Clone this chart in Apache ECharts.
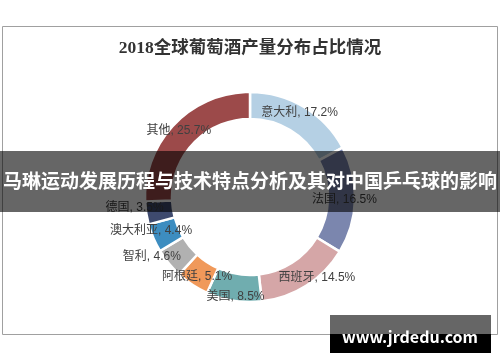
<!DOCTYPE html>
<html>
<head>
<meta charset="utf-8">
<script src="https://cdn.jsdelivr.net/npm/echarts@6/dist/echarts.min.js"></script>
<style>
html,body{margin:0;padding:0;background:#fff;}
#c{width:500px;height:362px;}
</style>
</head>
<body>
<div id="c"></div>
<script>
var titleText = '2018全球葡萄酒产量分布占比情况';
var bannerText = '马琳运动发展历程与技术特点分析及其对中国乒乓球的影响';
var watermarkText = 'www.jrdedu.com';
var categories = ['意大利', '法国', '西班牙', '美国', '阿根廷', '智利', '澳大利亚', '德国', '其他'];
var values = [17.2, 16.5, 14.5, 8.5, 5.1, 4.6, 4.4, 3.5, 25.7];

var colors = ['#b5d0e4', '#7b86ae', '#d5a6a7', '#70adaf', '#f0995a', '#b1b1b1', '#3d8dc0', '#3e4a6e', '#9c4a4a'];
var labelOffsets = [[1,-3],[0,0],[16,1],[0,6],[-1,1],[-25,0],[-12,-3],[-22,-4],[-3,-1]];

var data = categories.map(function (name, i) {
  return {
    name: name,
    value: values[i],
    itemStyle: { color: colors[i] },
    label: { offset: labelOffsets[i] }
  };
});

var chart = echarts.init(document.getElementById('c'), null, { renderer: 'canvas' });
chart.setOption({
  animation: false,
  backgroundColor: '#fff',
  title: {
    text: titleText,
    left: 'center',
    top: 35,
    textStyle: {
      fontFamily: '"Liberation Serif", "Noto Sans CJK SC", serif',
      fontSize: 17.5,
      fontWeight: 'bold',
      color: '#333'
    }
  },
  series: [{
    type: 'pie',
    center: [250, 197],
    radius: [78, 105],
    startAngle: 90,
    clockwise: true,
    avoidLabelOverlap: false,
    itemStyle: { borderColor: '#fff', borderWidth: 2.5 },
    label: {
      show: true,
      position: 'inside',
      formatter: function (p) { return p.name + ', ' + p.value.toFixed(1) + '%'; },
      color: '#404040',
      fontSize: 12,
      fontFamily: '"Liberation Sans", "Noto Sans CJK SC", sans-serif'
    },
    labelLine: { show: false },
    emphasis: { disabled: true },
    data: data
  }],
  graphic: [
    {
      type: 'rect', z: 1, silent: true,
      shape: { x: 2.5, y: 26.5, width: 495, height: 308 },
      style: { fill: 'none', stroke: '#a0a0a0', lineWidth: 1 }
    },
    {
      type: 'rect', z: 100, silent: true,
      shape: { x: 0, y: 151, width: 500, height: 61 },
      style: { fill: 'rgba(0,0,0,0.6)' }
    },
    {
      type: 'text', z: 101, silent: true,
      x: 250, y: 181,
      style: {
        text: bannerText,
        fill: '#fff',
        font: 'bold 19px "Noto Sans CJK SC", sans-serif',
        align: 'center',
        verticalAlign: 'middle'
      }
    },
    {
      type: 'rect', z: 100, silent: true,
      shape: { x: 330, y: 315, width: 161, height: 19 },
      style: { fill: '#666' }
    },
    {
      type: 'rect', z: 100, silent: true,
      shape: { x: 330, y: 334, width: 161, height: 19 },
      style: { fill: '#000' }
    },
    {
      type: 'text', z: 101, silent: true,
      x: 410, y: 337,
      style: {
        text: watermarkText,
        fill: '#fff',
        font: 'bold 16px "Noto Sans CJK SC", sans-serif',
        align: 'center',
        verticalAlign: 'middle'
      }
    }
  ]
});
</script>
</body>
</html>
